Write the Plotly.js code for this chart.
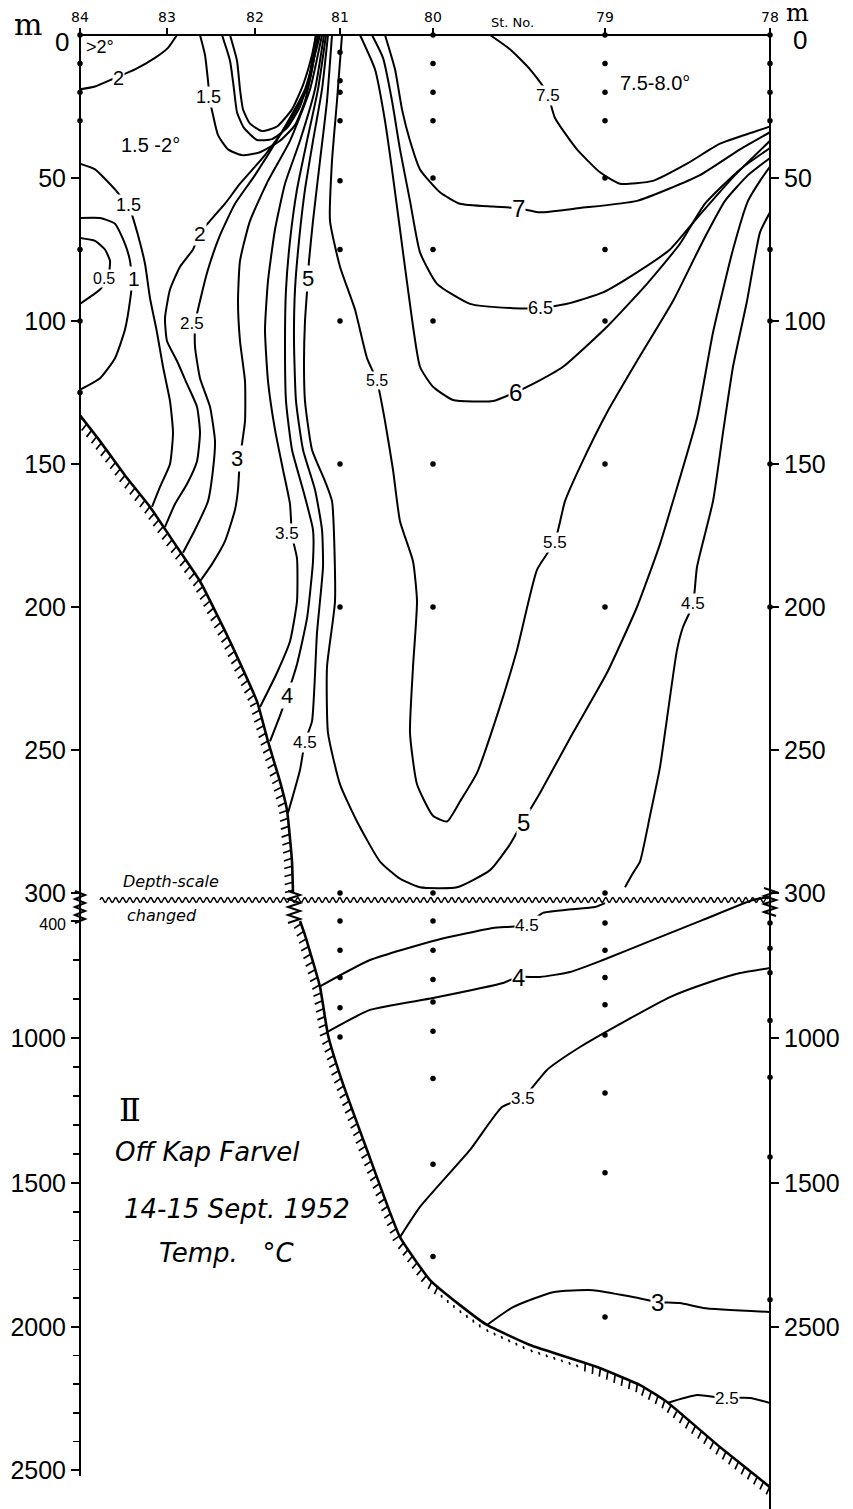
<!DOCTYPE html>
<html><head><meta charset="utf-8">
<script src="https://cdn.plot.ly/plotly-3.0.1.min.js"></script>
<style>body{margin:0;background:#fff}#chart{width:853px;height:1509px}</style>
</head><body><div id="chart"></div>
<script>
// ---------- stations (top axis) ----------
const stationNames = ['84','83','82','81','80','79','78'];
const stationDist  = [0, 87, 175, 260, 353, 525, 690];

// ---------- depth scale (changes below 300 m) ----------
const depthKnots = [0, 300, 400, 1000, 1500, 2000, 2500];
const drawKnots  = [0, 858, 886, 1003, 1148, 1292, 1435];

const leftTickDepths = [50,100,150,200,250,300,400,1000,1500,2000,2500];
const leftTickText   = ['50','100','150','200','250','300','<span style="font-size:16px">400</span>','1000','1500','2000','2500'];
const leftMinorDepths = [600,800,1100,1200,1300,1400,1600,1700,1800,1900,2100,2200,2300,2400];
const rightTickDepths = [50,100,150,200,250,300,1000,1500,2000];
const rightTickText   = ['50','100','150','200','250','300','1000','1500','2500'];

// ---------- isotherms: distance along section, depth (m) ----------
const t75_x = [410,430,450,467,475,497,520,540,573,607,640,673,690];
const t75_d = [0,5,12,20,29,40,48,52,51,45,38,34,32];
const t7_x = [305,315,322,330,340,360,380,413,437,460,500,557,620,660,690];
const t7_d = [0,12,26,37,47,55,59,60,60.5,62,60.5,58,49,40,34];
const t65_x = [292,303,312,320,330,340,357,390,433,460,487,523,557,590,617,655,690];
const t65_d = [0,8,23,40,58,76,87,94,95.5,95.5,94,90,83,75,64,49,37];
const t6_x = [280,295,305,312,320,328,340,353,373,413,435,453,483,527,567,600,625,660,690];
const t6_d = [0,12,30,47,68,89,116,123,127.6,128,125,122,116,102,87,73,59,47,39.5];
const t55_x = [262,257,252,250,260,275,287,297,305,313,320,333,337,333,330,337,353,367,380,397,417,437,457,475,485,500,527,557,593,623,645,668,690];
const t55_d = [0,23,44,65,81,96,113,121,135,152,170,184,198,221,244,262,273,275,268,258,238,215,187,177,163,151,132,114,93,72,58,49,43];
const t5_x = [252,247,240,233,229,228,225,224,225,232,245,252,255,247,248,260,277,300,320,340,377,410,430,443,460,493,527,557,580,593,617,633,653,668,680,690];
const t5_d = [0,23,44,65,79,85,100,114,128,145,156,163,198,221,244,262,275,289,295,298,298,292,283,275,265,244,223,200,178,163,134,104,75,58,51,46];
const t45a_x = [248,242,233,225,219,215,214,216,223,235,242,243,237,232,225,220,208];
const t45a_d = [0,19,37,54,72,89,107,128,145,159,173,186,209,240,247,257,272];
const t45b_x = [545,553,560,570,580,587,597,603,613,617,633,643,653,667,680,690];
const t45b_d = [298,293,289,273,256,239,215,207,199,186,163,139,116,93,69,62];
const t45c_x = [240,290,357,413,445,463,515,525];
const t45c_d = [735,600,497,436,421,371,350,336];
const t4a_x = [246,238,227,217,210,206,205,206,212,223,233,233,227,217,207,200,190];
const t4a_d = [0,19,37,54,72,89,107,128,145,159,173,184,204,220,231,238,247];
const t4b_x = [247,290,353,423,438,460,490,523,573,623,673,690];
const t4b_d = [970,856,795,718,687,687,662,600,497,396,325,314];
const t35a_x = [244,235,220,205,195,188,185,188,195,203,210,212,217,217,210,197,180];
const t35a_d = [0,19,37,52,68,86,103,121,138,152,164,175,183,198,212,223,235];
const t35b_x = [320,340,390,422,443,467,500,547,590,630,660,690];
const t35b_d = [1688,1583,1386,1238,1207,1110,1031,908,790,713,667,641];
const t3a_x = [242,230,210,188,170,160,158,160,165,165,160,158,155,145,132,120];
const t3a_d = [0,19,37,51,65,79,93,107,121,135,148,159,166,177,185,191];
const t3b_x = [407,433,473,513,553,577,600,623,690];
const t3b_d = [1993,1931,1879,1872,1896,1913,1917,1934,1948];
const t25a_x = [240,225,200,175,155,140,128,120,115,115,120,130,135,133,128,115,103];
const t25a_d = [0,19,35,49,59,70,82,93,101,109,120,130,142,152,163,173,181];
const t25b_x = [587,617,642,670,690];
const t25b_d = [2266,2238,2248,2248,2266];
const t2a_x = [238,228,210,185,160,145,130,120,113,100,90,85,87,97,107,117,120,117,107,95,85];
const t2a_d = [0,18,30,42,52,59,65,69,75,81,89,99,107,114,122,130,139,149,157,164,172];
const t2b_x = [0,15,35,55,75,88,97];
const t2b_d = [19,18,15,12,8,4.5,0];
const t15a_x = [0,15,35,50,58,65,70,77,83,90,93,90,80,72];
const t15a_d = [45,47,54,61,70,80,92,104,116,128,139,150,158,165];
const t15b_x = [120,125,128,130,133,138,148,162,180,200,215,225,232,238];
const t15b_d = [0,7,16,23,28,35,40,42,41,37,31.5,23,12,0];
const t1u_x = [142,150,154,157,164,177,192,207,220,229,236];
const t1u_d = [0,9,19,27,32.5,36.7,36.4,32.5,25,15,0];
const t05u_x = [150,157,160,163,170,182,197,212,223,232,236];
const t05u_d = [0,9,19,26,31,33.6,32,26,17.5,7,0];
const t1_x = [0,20,35,45,50,52,50,45,35,20,0];
const t1_d = [64,64,66,73,79,86,93,103,113,120,124];
const t05_x = [0,15,25,30,28,20,0];
const t05_d = [71,72,75,79,85,89,94];

// ---------- sea floor ----------
const floorUp_x = [0,20,45,70,95,120,150,177,188,200,207,212,213];
const floorUp_d = [133,142,154,165,178,191,212,233,247,261,271,289,300];
const floorLo_x = [220,225,240,248,260,287,320,350,380,407,450,517,560,587,640,690];
const floorLo_d = [400,472,738,985,1128,1386,1688,1837,1924,1993,2063,2140,2203,2262,2420,2560];

// ---------- observation depths per station ----------
const obs84 = [0,10,20,30,75,100,125];
const obs81 = [6,16,20,30,51,75,100,150,200,300,400,550,690,845,995];
const obs80 = [0,10,20,30,50,75,100,150,200,300,400,550,700,815,965,1140,1435,1755];
const obs79 = [0,10,20,30,50,75,100,150,200,300,410,550,690,830,985,1190,1465,1965];
const obs78 = [0,10,20,30,75,100,150,200,410,540,665,910,1135,1410,1905];

// ---------- helpers ----------
function Y(d){
  const k=depthKnots, p=drawKnots;
  let i=0;
  while(i<k.length-2 && d>k[i+1]) i++;
  return p[i]+(d-k[i])*(p[i+1]-p[i])/(k[i+1]-k[i]);
}
const L=80,T=35,PW=690,PH=1470;
const pxX = x=>(x-L)/PW, pyY = y=>1-(y-T)/PH;
const NUM = 'Liberation Sans, Arimo, sans-serif';
const SANS = 'DejaVu Sans, Liberation Sans, sans-serif';
const SERIF = 'DejaVu Serif, Liberation Serif, serif';

const traces=[];
const isos=[[t75_x,t75_d],[t7_x,t7_d],[t65_x,t65_d],[t6_x,t6_d],[t55_x,t55_d],[t5_x,t5_d],
 [t45a_x,t45a_d],[t45b_x,t45b_d],[t45c_x,t45c_d],[t4a_x,t4a_d],[t4b_x,t4b_d],
 [t35a_x,t35a_d],[t35b_x,t35b_d],[t3a_x,t3a_d],[t3b_x,t3b_d],[t25a_x,t25a_d],[t25b_x,t25b_d],
 [t2a_x,t2a_d],[t2b_x,t2b_d],[t15a_x,t15a_d],[t15b_x,t15b_d],[t1u_x,t1u_d],[t05u_x,t05u_d],
 [t1_x,t1_d],[t05_x,t05_d]];
isos.forEach(([xs,ds])=>traces.push({x:xs,y:ds.map(Y),mode:'lines',
  line:{color:'#000',width:2,shape:'spline',smoothing:0.5},hoverinfo:'skip',showlegend:false}));

// floor + hatching
function hatch(xs,ds){
  const P=xs.map((x,i)=>[x,Y(ds[i])]);
  const hx=[],hy=[];
  let carry=3;
  for(let i=0;i<P.length-1;i++){
    const dx=P[i+1][0]-P[i][0], dy=P[i+1][1]-P[i][1];
    const len=Math.hypot(dx,dy); if(!len) continue;
    const tx=dx/len, ty=dy/len, nx=-ty, ny=tx;
    let s=carry;
    for(;s<len;s+=8){
      const x0=P[i][0]+tx*s, y0=P[i][1]+ty*s;
      const dotted = x0>360 && x0<500;
      const off = dotted?4:0, l = dotted?2:8;
      hx.push(x0+nx*off, x0+nx*(off+l)+tx*2, null);
      hy.push(y0+ny*off, y0+ny*(off+l)+ty*2, null);
    }
    carry=s-len;
  }
  return {x:hx,y:hy};
}
[[floorUp_x,floorUp_d],[floorLo_x,floorLo_d]].forEach(([xs,ds])=>{
  traces.push({x:xs,y:ds.map(Y),mode:'lines',line:{color:'#000',width:2.6,shape:'spline',smoothing:0.4},hoverinfo:'skip',showlegend:false});
  const h=hatch(xs,ds);
  traces.push({x:h.x,y:h.y,mode:'lines',line:{color:'#000',width:1.7},hoverinfo:'skip',showlegend:false});
});

// observation dots
const obsSets=[[0,obs84],[260,obs81],[353,obs80],[525,obs79],[690,obs78]];
const ox=[],oy=[];
obsSets.forEach(([sx,ds])=>ds.forEach(d=>{ox.push(sx);oy.push(Y(d));}));
traces.push({x:ox,y:oy,mode:'markers',marker:{color:'#000',size:5.5},hoverinfo:'skip',showlegend:false,cliponaxis:false});

// ---------- shapes ----------
const shapes=[];
const line=(x0,y0,x1,y1,w)=>shapes.push({type:'line',xref:'paper',yref:'paper',x0:pxX(x0),y0:pyY(y0),x1:pxX(x1),y1:pyY(y1),line:{color:'#000',width:w||2}});
line(80,35,770,35,2);
line(80,35,80,1476,2);
line(770,35,770,1509,2);
function pathFrom(pts){return pts.map((p,i)=>(i?'L':'M')+pxX(p[0]).toFixed(5)+','+pyY(p[1]).toFixed(5)).join(' ');}
const wv=[];
for(let x=100;x<=768;x+=1){wv.push([x,900-2.4*Math.sin((x-100)/7*2*Math.PI)]);}
shapes.push({type:'path',xref:'paper',yref:'paper',path:pathFrom(wv),line:{color:'#000',width:1.4}});
function zig(cx,y0,y1,w){const pts=[];let k=0;for(let y=y0;y<=y1;y+=4,k++)pts.push([cx+(k%2?w:-w),y]);return pts;}
[[80,891,923,5],[294,891,923,6],[770,888,916,6]].forEach(([cx,a,b,w])=>
  shapes.push({type:'path',xref:'paper',yref:'paper',path:pathFrom(zig(cx,a,b,w)),line:{color:'#000',width:2}}));

// ---------- annotations ----------
const ann=[];
function lab(x,y,text,size,opt){ann.push(Object.assign({x:x-L,y:y-T,xref:'x',yref:'y',text:text,showarrow:false,
  xanchor:'center',yanchor:'middle',font:{family:NUM,size:size,color:'#000'},bgcolor:'#fff',borderpad:0},opt||{}));}
function txt(x,y,text,size,family,opt){ann.push(Object.assign({x:pxX(x),y:pyY(y),xref:'paper',yref:'paper',text:text,showarrow:false,
  xanchor:'center',yanchor:'middle',font:{family:family||NUM,size:size,color:'#000'}},opt||{}));}
lab(100,47,'>2°',18,{bgcolor:'rgba(0,0,0,0)'});
lab(118,78,'2',20);
lab(150,145,'1.5 -2°',20,{bgcolor:'rgba(0,0,0,0)'});
lab(128,205,'1.5',18);
lab(104,278,'0.5',16);
lab(134,278,'1',21);
lab(208,97,'1.5',18);
lab(200,233,'2',21);
lab(192,323,'2.5',17);
lab(237,458,'3',22);
lab(287,533,'3.5',17);
lab(287,695,'4',22);
lab(305,742,'4.5',17);
lab(308,278,'5',22);
lab(377,380,'5.5',16);
lab(548,95,'7.5',17);
lab(655,83,'7.5-8.0°',20,{bgcolor:'rgba(0,0,0,0)'});
lab(518,208,'7',24);
lab(540,308,'6.5',18);
lab(515,392,'6',24);
lab(555,542,'5.5',17);
lab(693,603,'4.5',17);
lab(523,822,'5',24);
lab(527,925,'4.5',17);
lab(518,977,'4',24);
lab(523,1098,'3.5',17);
lab(657,1302,'3',24);
lab(727,1398,'2.5',17);
txt(512,23,'St. No.',13,SANS);
txt(28,25,'m',30,SERIF);
txt(62,42,'0',26,NUM);
txt(798,13,'m',24,SERIF);
txt(800,40,'0',26,NUM);
txt(171,881,'<i>Depth-scale</i>',16,SANS);
txt(162,915,'<i>changed</i>',16,SANS);
txt(130,1110,'Ⅱ',32,SERIF);
txt(207,1152,'<i>Off Kap Farvel</i>',26,SANS);
txt(237,1209,'<i>14-15 Sept. 1952</i>',26,SANS);
txt(227,1253,'<i>Temp.&nbsp;&nbsp;&nbsp;°C</i>',26,SANS);

const layout={
  width:853,height:1509,margin:{l:80,r:83,t:35,b:4},
  paper_bgcolor:'#fff',plot_bgcolor:'#fff',showlegend:false,
  xaxis:{range:[0,690],side:'top',tickmode:'array',tickvals:stationDist,ticktext:stationNames,
    ticks:'outside',ticklen:6,tickwidth:2,tickcolor:'#000',
    tickfont:{family:SANS,size:14,color:'#000'},showgrid:false,zeroline:false,showline:false,fixedrange:true},
  yaxis:{range:[1470,0],tickmode:'array',tickvals:leftTickDepths.map(Y),ticktext:leftTickText,
    ticks:'outside',ticklen:8,tickwidth:1.5,tickcolor:'#000',
    tickfont:{family:NUM,size:25,color:'#000'},showgrid:false,zeroline:false,showline:false,fixedrange:true,
    minor:{tickmode:'array',tickvals:leftMinorDepths.map(Y),ticks:'outside',ticklen:6,tickwidth:1.5,tickcolor:'#000',showgrid:false}},
  yaxis2:{range:[1470,0],overlaying:'y',side:'right',tickmode:'array',tickvals:rightTickDepths.map(Y),ticktext:rightTickText,
    ticks:'outside',ticklen:8,tickwidth:1.5,tickcolor:'#000',
    tickfont:{family:NUM,size:25,color:'#000'},showgrid:false,zeroline:false,showline:false,fixedrange:true},
  shapes:shapes,annotations:ann
};
traces.push({x:[null],y:[null],yaxis:'y2',mode:'markers',showlegend:false,hoverinfo:'skip'});
Plotly.newPlot('chart',traces,layout,{displayModeBar:false,staticPlot:true});
</script></body></html>
